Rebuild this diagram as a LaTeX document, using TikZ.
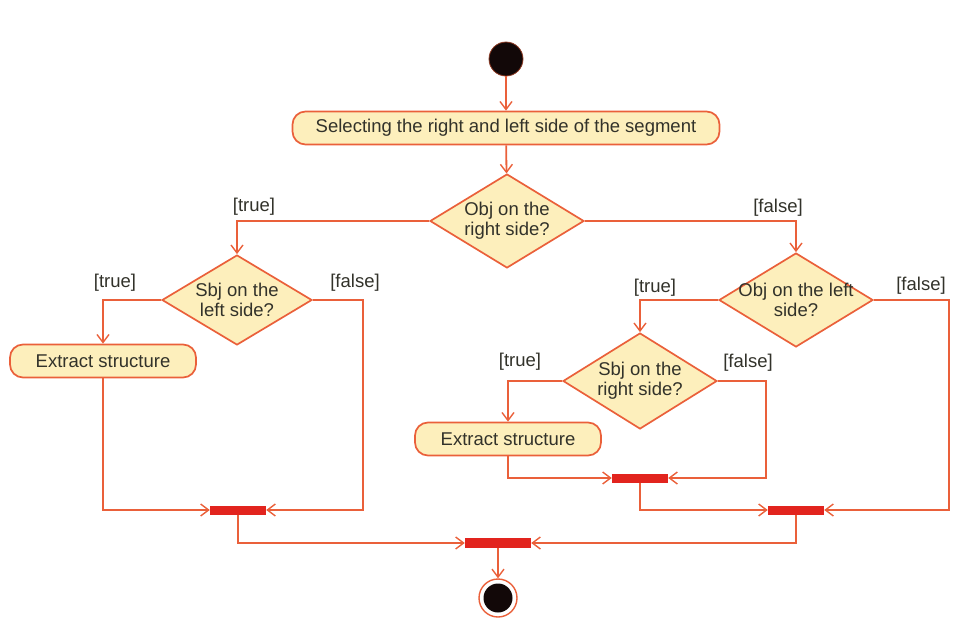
\documentclass[tikz,border=0pt]{standalone}
\usepackage{fontspec}
\setmainfont{Liberation Sans}
\usetikzlibrary{shapes.geometric,arrows.meta}

\definecolor{flowline}{RGB}{234,96,58}
\definecolor{boxfill}{RGB}{253,239,188}
\definecolor{barred}{RGB}{226,36,30}
\definecolor{inktext}{RGB}{50,50,42}
\definecolor{dotblack}{RGB}{18,8,8}

\tikzset{
  actbox/.style={draw=flowline, fill=boxfill, line width=1.7pt, rounded corners=13pt,
    minimum height=33pt, inner sep=0pt, text=inktext},
  decbox/.style={diamond, draw=flowline, fill=boxfill, line width=1.7pt, inner sep=0pt,
    minimum width=154pt, minimum height=94pt},
  dectext/.style={align=center, text=inktext, inner sep=0pt,
    font=\fontsize{18.5}{20}\selectfont},
  syncbar/.style={fill=barred, draw=none, minimum width=56pt, minimum height=9pt, inner sep=0pt},
  guard/.style={text=inktext, inner sep=0pt, font=\fontsize{18.5}{20}\selectfont},
  flow/.style={draw=flowline, line width=1.8pt, -{Straight Barb[length=8pt,width=12pt,line width=1.4pt]}},
  startdot/.style={circle, fill=dotblack, draw=flowline!60!black, line width=0.8pt,
    minimum size=34pt, inner sep=0pt},
  endring/.style={circle, fill=white, draw=flowline, line width=1.4pt, minimum size=38pt, inner sep=0pt},
  enddot/.style={circle, fill=dotblack, minimum size=29pt, inner sep=0pt},
}

\begin{document}
\begin{tikzpicture}[x=1pt, y=-1pt, font=\fontsize{18.5}{21}\selectfont]
\useasboundingbox (0,0) rectangle (954,619);

% start and first action
\node[startdot] (start) at (506,59) {};
\node[actbox, minimum width=427pt] (select) at (506,128) {Selecting the right and left side of the segment};

% decisions
\node[decbox] (objright) at (507,221) {};
\node[dectext] (objrightT) at (objright) {Obj on the\\right side?};
\node[decbox, minimum width=150pt, minimum height=90pt] (sbjleft) at (237,300) {};
\node[dectext] (sbjleftT) at (sbjleft) {Sbj on the\\left side?};
\node[decbox] (objleft) at (796,300) {};
\node[dectext] (objleftT) at (objleft) {Obj on the left\\side?};
\node[decbox, minimum height=96pt] (sbjright) at (640,381) {};
\node[dectext] (sbjrightT) at (sbjright) {Sbj on the\\right side?};

% extraction actions
\node[actbox, minimum width=186pt] (extractL) at (103,361) {Extract structure};
\node[actbox, minimum width=186pt] (extractR) at (508,439) {Extract structure};

% join bars
\node[syncbar] (joinL) at (238,510) {};
\node[syncbar] (joinM) at (640,478) {};
\node[syncbar] (joinR) at (796,510) {};
\node[syncbar, minimum width=66pt, minimum height=10pt] (joinAll) at (498,543) {};

% final node
\node[endring] (final) at (498,598) {};
\node[enddot] (finalDot) at (final) {};

% guards
\node[guard] (g1) at (254,207) {[true]};
\node[guard] (g2) at (778,208) {[false]};
\node[guard] (g3) at (115,283) {[true]};
\node[guard] (g4) at (355,283) {[false]};
\node[guard] (g5) at (655,288) {[true]};
\node[guard] (g6) at (921,286) {[false]};
\node[guard] (g7) at (520,362) {[true]};
\node[guard] (g8) at (748,363) {[false]};

% flows
\draw[flow] (start) -- (select);
\draw[flow] (select) -- (objright);
\draw[flow] (objright.west) -| (sbjleft.north);
\draw[flow] (objright.east) -| (objleft.north);
\draw[flow] (sbjleft.west) -| (extractL.north);
\draw[flow] (sbjleft.east) -- ++(50,0) |- (joinL.east);
\draw[flow] (extractL.south) |- (joinL.west);
\draw[flow] (objleft.west) -| (sbjright.north);
\draw[flow] (objleft.east) -- ++(75,0) |- (joinR.east);
\draw[flow] (sbjright.west) -| (extractR.north);
\draw[flow] (sbjright.east) -- ++(48,0) |- (joinM.east);
\draw[flow] (extractR.south) |- (joinM.west);
\draw[flow] (joinM.south) |- (joinR.west);
\draw[flow] (joinL.south) |- (joinAll.west);
\draw[flow] (joinR.south) |- (joinAll.east);
\draw[flow] (joinAll) -- (final);
\end{tikzpicture}
\end{document}
